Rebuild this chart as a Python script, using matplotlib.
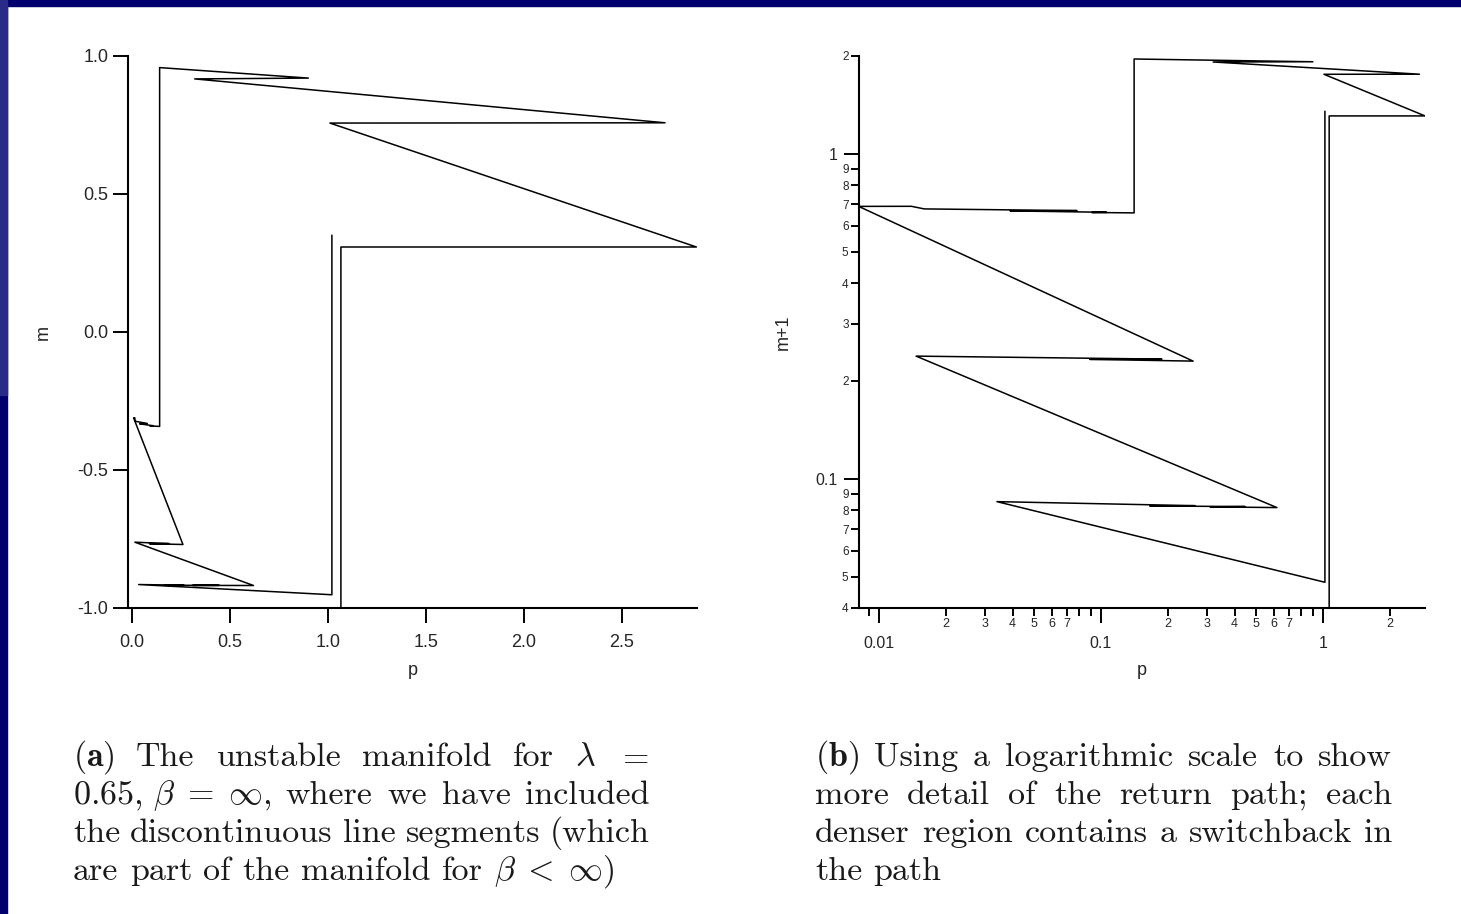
import numpy as np
import matplotlib
matplotlib.use("Agg")
import matplotlib.pyplot as plt
from matplotlib.ticker import FixedLocator, FixedFormatter
from matplotlib.patches import Rectangle

# path of the unstable manifold (p, m)
p = np.array([1.02, 1.02, 0.034, 0.265, 0.166, 0.445, 0.31, 0.62,
              0.0147, 0.188, 0.089, 0.26,
              0.0081, 0.014, 0.016, 0.078, 0.039, 0.106, 0.091, 0.141,
              0.141, 0.90, 0.32, 2.72, 1.01, 2.88, 1.066, 1.066, 0.0])
m = np.array([0.35, -0.952, -0.915, -0.9174, -0.9176, -0.9179, -0.9181, -0.9185,
              -0.7616, -0.7666, -0.767, -0.7699,
              -0.311, -0.3107, -0.3233, -0.3314, -0.3328, -0.3394, -0.3403, -0.3421,
              0.958, 0.920, 0.917, 0.758, 0.757, 0.308, 0.308, -1.0, -1.0])

# ticks of panel (a)
xa_ticks = [0.0, 0.5, 1.0, 1.5, 2.0, 2.5]
ya_ticks = [-1.0, -0.5, 0.0, 0.5, 1.0]

# ticks of panel (b), log axes
xb_major = [0.01, 0.1, 1]
xb_major_lab = ["0.01", "0.1", "1"]
xb_minor = [0.008, 0.009, 0.02, 0.03, 0.04, 0.05, 0.06, 0.07, 0.08, 0.09,
            0.2, 0.3, 0.4, 0.5, 0.6, 0.7, 0.8, 0.9, 2]
xb_minor_lab = ["", "", "2", "3", "4", "5", "6", "7", "", "",
                "2", "3", "4", "5", "6", "7", "", "", "2"]
yb_major = [0.1, 1]
yb_major_lab = ["0.1", "1"]
yb_minor = [0.04, 0.05, 0.06, 0.07, 0.08, 0.09,
            0.2, 0.3, 0.4, 0.5, 0.6, 0.7, 0.8, 0.9, 2]
yb_minor_lab = ["4", "5", "6", "7", "8", "9",
                "2", "3", "4", "5", "6", "7", "8", "9", "2"]

cap_a = [
    [r"$(\mathbf{a})$", "The", "unstable", "manifold", "for", r"$\lambda$", r"$=$"],
    [r"$0.65,\,\beta\;=\;\infty$,", "where", "we", "have", "included"],
    ["the", "discontinuous", "line", "segments", "(which"],
    ["are", "part", "of", "the", "manifold", "for", r"$\beta\;<\;\infty$)"],
]
cap_b = [
    [r"$(\mathbf{b})$", "Using", "a", "logarithmic", "scale", "to", "show"],
    ["more", "detail", "of", "the", "return", "path;", "each"],
    ["denser", "region", "contains", "a", "switchback", "in"],
    ["the", "path"],
]

plt.rcParams["font.family"] = ["Liberation Sans", "DejaVu Sans"]
plt.rcParams["axes.unicode_minus"] = False
plt.rcParams["mathtext.fontset"] = "cm"

W, H = 1461, 914
fig = plt.figure(figsize=(W / 100, H / 100), dpi=100)
fig.patch.set_facecolor("white")

def fx(x):
    return x / W

def fy(y):
    return 1 - y / H

# slide frame
navy = "#00006e"
fig.patches.append(Rectangle((0, fy(6)), 1, 6 / H, transform=fig.transFigure, color=navy, zorder=0))
fig.patches.append(Rectangle((0, 0), 7 / W, 1, transform=fig.transFigure, color=navy, zorder=0))
fig.patches.append(Rectangle((0, fy(395)), 7 / W, 395 / H, transform=fig.transFigure, color="#2a2a88", zorder=0))

axa = fig.add_axes([fx(128), fy(608), (697 - 128) / W, (608 - 56) / H])
axb = fig.add_axes([fx(859), fy(608), (1425 - 859) / W, (608 - 56) / H])

tcol = "#262626"
for ax in (axa, axb):
    ax.spines[["top", "right"]].set_visible(False)
    ax.spines[["left", "bottom"]].set_linewidth(1.5)
    ax.patch.set_alpha(0)

# (a) linear
axa.plot(p, m, color="black", lw=1.1)
axa.set_xlim(-0.0204, 2.883)
axa.set_ylim(-1, 1)
axa.set_xticks(xa_ticks, [f"{v:.1f}" for v in xa_ticks])
axa.set_yticks(ya_ticks, [f"{v:.1f}" for v in ya_ticks])
axa.tick_params(direction="out", length=10.5, width=1.4, labelsize=13, labelcolor=tcol)
axa.tick_params(axis="x", pad=8)
axa.tick_params(axis="y", pad=3.5)
axa.set_xlabel("p", fontsize=13, color=tcol)
axa.set_ylabel("m", fontsize=13, color=tcol)
axa.xaxis.set_label_coords(0.5, -0.098)
axa.yaxis.set_label_coords(-0.134, 0.5)

# (b) log-log of p and m+1
axb.plot(np.clip(p, 1e-3, None), np.clip(m + 1, 1e-3, None), color="black", lw=1.1)
axb.set_xscale("log")
axb.set_yscale("log")
axb.set_xlim(0.00813, 2.88)
axb.set_ylim(0.04, 2)
axb.xaxis.set_major_locator(FixedLocator(xb_major))
axb.xaxis.set_major_formatter(FixedFormatter(xb_major_lab))
axb.xaxis.set_minor_locator(FixedLocator(xb_minor))
axb.xaxis.set_minor_formatter(FixedFormatter(xb_minor_lab))
axb.yaxis.set_major_locator(FixedLocator(yb_major))
axb.yaxis.set_major_formatter(FixedFormatter(yb_major_lab))
axb.yaxis.set_minor_locator(FixedLocator(yb_minor))
axb.yaxis.set_minor_formatter(FixedFormatter(yb_minor_lab))
axb.tick_params(which="both", direction="out", width=1.4, labelcolor=tcol)
axb.tick_params(axis="x", which="major", length=10.5, pad=10, labelsize=11.5)
axb.tick_params(axis="x", which="minor", length=6, pad=1.5, labelsize=9)
axb.tick_params(axis="y", which="major", length=10.5, pad=5, labelsize=11.5)
axb.tick_params(axis="y", which="minor", length=6, pad=1.5, labelsize=8.5)
axb.set_xlabel("p", fontsize=13, color=tcol)
axb.set_ylabel("m+1", fontsize=13, color=tcol)
axb.xaxis.set_label_coords(0.5, -0.098)
axb.yaxis.set_label_coords(-0.118, 0.5)

# justified captions
cap_size = 24.5
renderer = fig.canvas.get_renderer()

def justify(lines, x0, x1, y0, dy):
    for i, words in enumerate(lines):
        texts = [fig.text(0, 0, w, fontsize=cap_size, family="cmr10",
                          va="baseline", color="#1a1a1a") for w in words]
        widths = [t.get_window_extent(renderer).width for t in texts]
        if i == len(lines) - 1:
            gap = cap_size * 100 / 72 * 0.333
        else:
            gap = (x1 - x0 - sum(widths)) / (len(words) - 1)
        x = x0
        for t, w in zip(texts, widths):
            t.set_position((fx(x), fy(y0 + i * dy)))
            x += w + gap

justify(cap_a, 73, 650, 766, 38)
justify(cap_b, 815, 1392, 766, 38)

fig.savefig("out.png", dpi=100, facecolor=fig.get_facecolor())
